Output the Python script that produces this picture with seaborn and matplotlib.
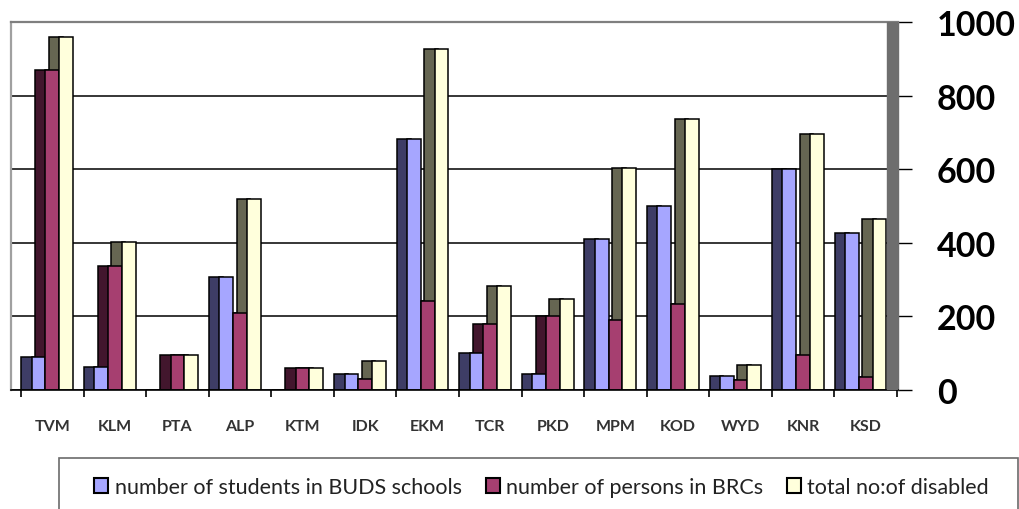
import pandas as pd
import numpy as np
import matplotlib.pyplot as plt
import seaborn as sns
from matplotlib.patches import Patch, Rectangle
from matplotlib.ticker import FixedLocator

# district-wise figures
districts = ['TVM', 'KLM', 'PTA', 'ALP', 'KTM', 'IDK', 'EKM',
             'TCR', 'PKD', 'MPM', 'KOD', 'WYD', 'KNR', 'KSD']
buds_students = [90, 63, 0, 307, 0, 44, 682, 100, 43, 410, 500, 38, 600, 427]
brc_persons = [870, 337, 96, 210, 61, 31, 242, 179, 200, 191, 233, 27, 94, 35]
total_disabled = [960, 403, 96, 518, 61, 78, 927, 282, 247, 603, 737, 68, 697, 464]
series_names = ['number of students in BUDS schools',
                'number of persons in BRCs',
                'total no:of disabled']
y_ticks = [0, 200, 400, 600, 800, 1000]

front_colors = ['#A6A6FF', '#A63F70', '#FFFFDC']
side_colors = ['#3E3D66', '#42162D', '#666652']

df = pd.DataFrame({
    'district': districts * 3,
    'series': np.repeat(series_names, len(districts)),
    'value': buds_students + brc_persons + total_disabled,
})

sns.set_style('white')
plt.rcParams['font.family'] = ['Lato', 'DejaVu Sans']

fig = plt.figure(figsize=(10.2, 5.1), dpi=100)
ax = fig.add_axes([11 / 1020, 119 / 510, 887 / 1020, 368 / 510])

# dark side faces for the fake 3-D look, pushed a bit to the left
sns.barplot(data=df, x='district', y='value', hue='series', hue_order=series_names,
            palette=side_colors, width=0.66, saturation=1, errorbar=None,
            edgecolor='black', linewidth=1.1, legend=False, ax=ax)
for p in ax.patches:
    p.set_x(p.get_x() - 0.165)

# front faces
sns.barplot(data=df, x='district', y='value', hue='series', hue_order=series_names,
            palette=front_colors, width=0.66, saturation=1, errorbar=None,
            edgecolor='black', linewidth=1.1, legend=False, ax=ax)

ax.set_xlim(-0.66, 13.516)
ax.set_ylim(0, 1000)
ax.set_xlabel('')
ax.set_ylabel('')

# grey side wall on the right
ax.axvspan(13.34, 13.516, color='#6E6E6E', zorder=3)

ax.set_axisbelow(True)
ax.yaxis.tick_right()
ax.set_yticks(y_ticks)
ax.yaxis.grid(True, color='black', linewidth=1.1)
ax.tick_params(axis='y', direction='out', length=10, width=1, color='black',
               pad=18, labelsize=24.5, labelcolor='black')
for lab in ax.get_yticklabels():
    lab.set_fontweight('bold')

ax.xaxis.set_minor_locator(FixedLocator(np.arange(-0.5, 14, 1)))
ax.tick_params(axis='x', which='major', length=0, pad=21, labelsize=11.5,
               labelcolor='#333333')
ax.tick_params(axis='x', which='minor', direction='out', length=5, width=1.2,
               color='black', bottom=True)
for lab in ax.get_xticklabels():
    lab.set_fontweight('bold')

ax.spines['top'].set_color('#7F7F7F')
ax.spines['top'].set_linewidth(1.6)
ax.spines['left'].set_color('#A0A0A0')
ax.spines['left'].set_linewidth(1.6)
ax.spines['bottom'].set_color('black')
ax.spines['bottom'].set_linewidth(1.2)
ax.spines['right'].set_color('#6E6E6E')
ax.spines['right'].set_linewidth(1)

# legend in an open box along the bottom
handles = [Patch(facecolor=c, edgecolor='black', linewidth=1.5) for c in front_colors]
fig.legend(handles, series_names, loc='center', bbox_to_anchor=(0.531, 0.043),
           ncol=3, frameon=False, fontsize=15.5, handlelength=0.65, handleheight=0.65,
           handletextpad=0.3, columnspacing=1.1, labelcolor='#222222')
fig.add_artist(Rectangle((59 / 1020, -0.05), (1018 - 59) / 1020, 51 / 510 + 0.05,
                         transform=fig.transFigure, fill=False,
                         edgecolor='#6B6B6B', linewidth=1.2))

fig.savefig('out.png', dpi=100)
